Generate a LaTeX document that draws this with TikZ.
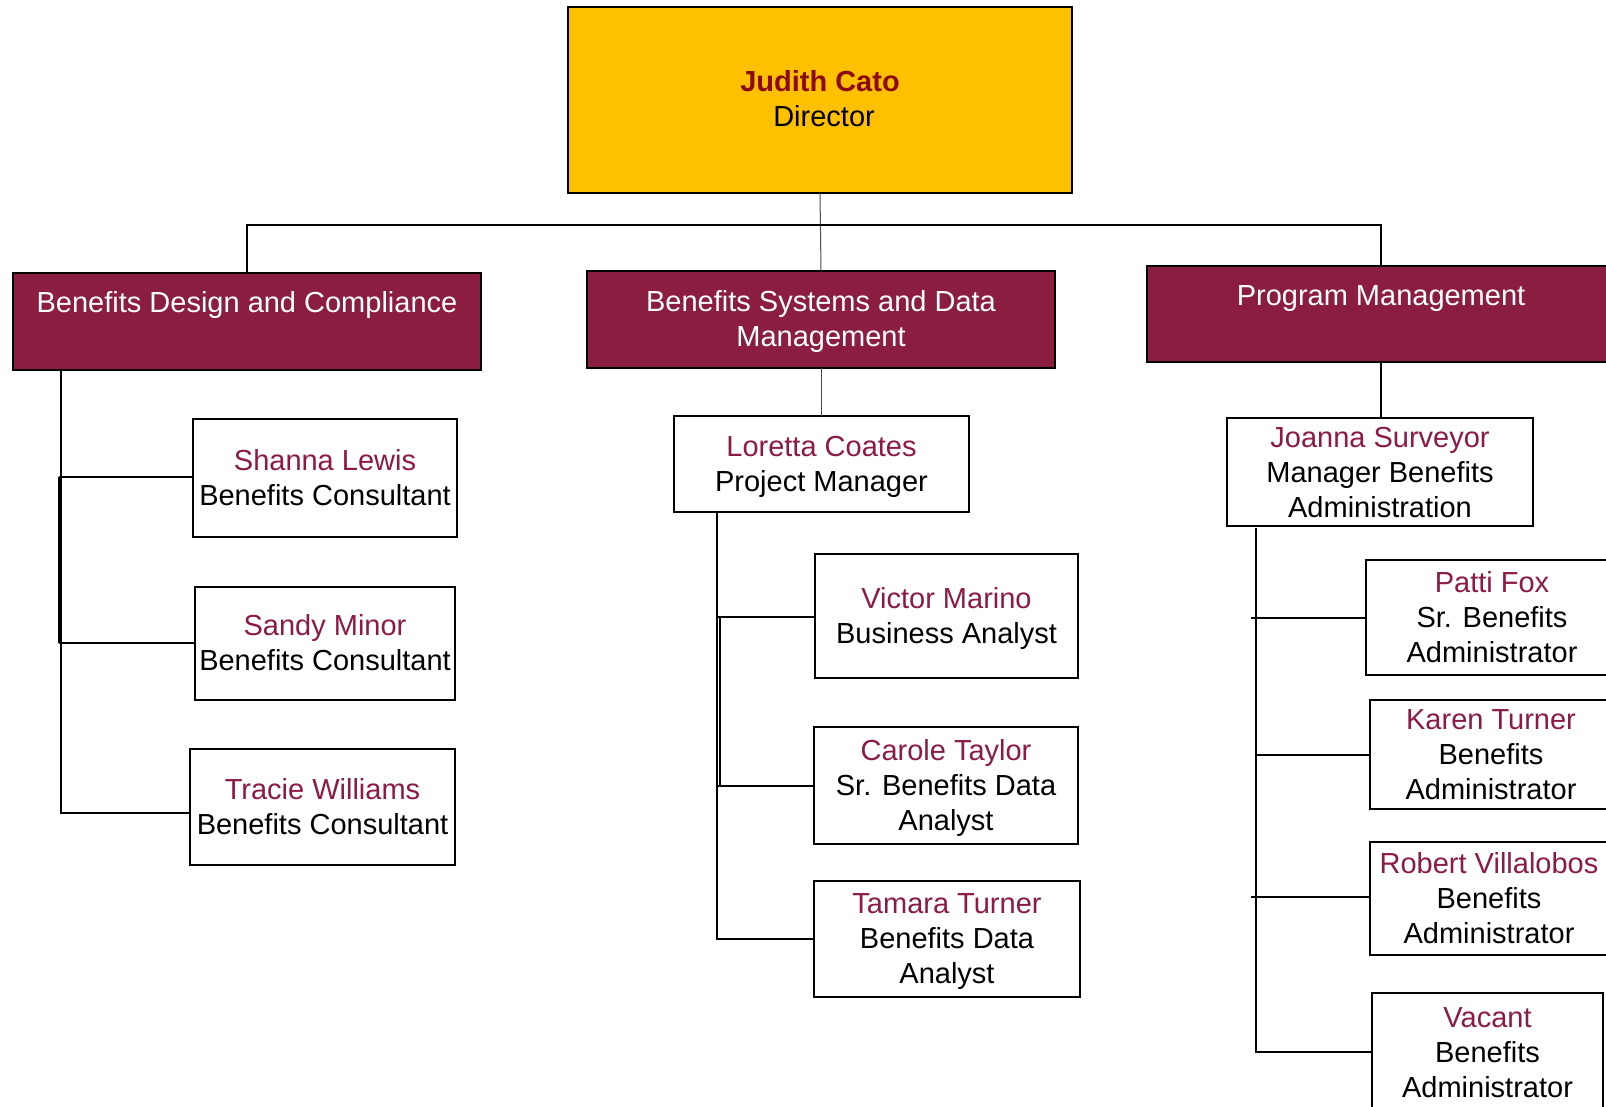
\documentclass[tikz,border=0pt]{standalone}
\usepackage{fontspec}
\setmainfont{Liberation Sans}
\definecolor{maroon}{HTML}{8B1D41}
\definecolor{namecol}{HTML}{8B1A47}
\definecolor{gold}{HTML}{FFC000}
\definecolor{judith}{HTML}{8B0A0A}
\newcommand\nm[1]{\textcolor{namecol}{\strut #1}}
\newcommand\tl[1]{\strut #1}
\begin{document}
\begin{tikzpicture}[x=0.5pt,y=-0.5pt,
  sz/.style 2 args={minimum width=#1*0.5pt, minimum height=#2*0.5pt},
  box/.style={draw=black, line width=0.8pt, fill=white, inner sep=0pt, outer sep=0pt, rectangle},
  dept/.style={box, fill=maroon},
  txt/.style={inner sep=0pt, outer sep=0pt, align=center, font=\fontsize{14.5pt}{17.5pt}\selectfont},
  wtxt/.style={txt, text=white},
  conn/.style={draw=black, line width=0.6pt},
  thin/.style={draw=black!70, line width=0.5pt}]
\useasboundingbox (0,0) rectangle (1606,1107);
\clip (0,0) rectangle (1606,1107);
% director
\node[box, fill=gold, sz={504}{186}] (dir) at (820,100) {};
\node[txt] (dirT) at (820,102) {\textcolor{judith}{\bfseries\strut Judith Cato}\\\tl{\hspace*{.28em}Director}};
% departments
\node[dept, sz={468}{97}] (d1) at (247,321.5) {};
\node[wtxt] (d1T) at (247,306) {\strut Benefits Design and Compliance};
\node[dept, sz={468}{97}] (d2) at (821,319.5) {};
\node[wtxt] (d2T) at (821,322) {\strut Benefits Systems and Data\\\strut Management};
\node[dept, sz={468}{96}] (d3) at (1381,314) {};
\node[wtxt] (d3T) at (1381,299) {\strut Program Management};
% bus
\coordinate (busL) at (247,225);
\coordinate (busR) at (1381,225);
\draw[thin] (dir.south) -- (d2.north);
\draw[conn] (d1.north) -- (busL) -- (busR) -- (d3.north);
% column 1
\node[box, sz={264}{118}] (shanna) at (325,478) {};
\node[txt] (shannaT) at (325,480.5) {\nm{Shanna Lewis}\\\tl{Benefits Consultant}};
\node[box, sz={260}{113}] (sandy) at (325,643.5) {};
\node[txt] (sandyT) at (325,645.5) {\nm{Sandy Minor}\\\tl{Benefits Consultant}};
\node[box, sz={265}{116}] (tracie) at (322.5,807) {};
\node[txt] (tracieT) at (322.5,810) {\nm{Tracie Williams}\\\tl{Benefits Consultant}};
\coordinate (t1top) at (61,370);
\coordinate (t1bot) at (61,813);
\coordinate (t1a) at (59,477);
\coordinate (t1b) at (59,643);
\draw[conn] (t1top) -- (t1bot) -- (tracie.west |- t1bot);
\draw[conn] (t1a) -- (t1b);
\draw[conn] (t1a) -- (shanna.west |- t1a);
\draw[conn] (t1b) -- (sandy.west |- t1b);
% column 2
\node[box, sz={295}{96}] (loretta) at (821.5,464) {};
\node[txt] (lorettaT) at (821.5,467) {\nm{Loretta Coates}\\\tl{Project Manager}};
\draw[thin] (d2.south) -- (d2.south |- loretta.north);
\node[box, sz={263}{124}] (victor) at (946.5,616) {};
\node[txt] (victorT) at (946.5,619) {\nm{Victor Marino}\\\tl{Business Analyst}};
\node[box, sz={264}{117}] (carole) at (946,785.5) {};
\node[txt] (caroleT) at (946,788) {\nm{Carole Taylor}\\\tl{Sr. Benefits Data}\\\tl{Analyst}};
\node[box, sz={266}{116}] (tamara) at (947,939) {};
\node[txt] (tamaraT) at (947,941.5) {\nm{Tamara Turner}\\\tl{Benefits Data}\\\tl{Analyst}};
\coordinate (t2top) at (717,512);
\coordinate (t2bot) at (717,939);
\coordinate (t2a) at (720,617);
\coordinate (t2b) at (720,786);
\draw[conn] (t2top) -- (t2bot) -- (tamara.west |- t2bot);
\draw[conn] (t2a) -- (t2b);
\draw[conn] (717,617) -- (victor.west |- t2a);
\draw[conn] (717,786) -- (carole.west |- t2b);
% column 3
\node[box, sz={306}{108}] (joanna) at (1380,472) {};
\node[txt] (joannaT) at (1380,475) {\nm{Joanna Surveyor}\\\tl{Manager Benefits}\\\tl{Administration}};
\draw[conn] (d3.south) -- (d3.south |- joanna.north);
\node[box, sz={252}{115}] (patti) at (1492,617.5) {};
\node[txt] (pattiT) at (1492,620) {\nm{Patti Fox}\\\tl{Sr. Benefits}\\\tl{Administrator}};
\node[box, sz={242}{109}] (karen) at (1491,754.5) {};
\node[txt] (karenT) at (1491,757.5) {\nm{Karen Turner}\\\tl{Benefits}\\\tl{Administrator}};
\node[box, sz={238}{113}] (robert) at (1489,898.5) {};
\node[txt] (robertT) at (1489,901) {\nm{Robert Villalobos}\\\tl{Benefits}\\\tl{Administrator}};
\node[box, sz={231}{132}] (vacant) at (1487.5,1059) {};
\node[txt] (vacantT) at (1487.5,1055) {\nm{Vacant}\\\tl{Benefits}\\\tl{Administrator}};
\coordinate (t3top) at (1256,528);
\coordinate (t3bot) at (1256,1052);
\coordinate (p3) at (1251,618);
\coordinate (k3) at (1256,755);
\coordinate (r3) at (1251,897);
\draw[conn] (t3top) -- (t3bot) -- (vacant.west |- t3bot);
\draw[conn] (p3) -- (patti.west |- p3);
\draw[conn] (k3) -- (karen.west |- k3);
\draw[conn] (r3) -- (robert.west |- r3);
\end{tikzpicture}
\end{document}
